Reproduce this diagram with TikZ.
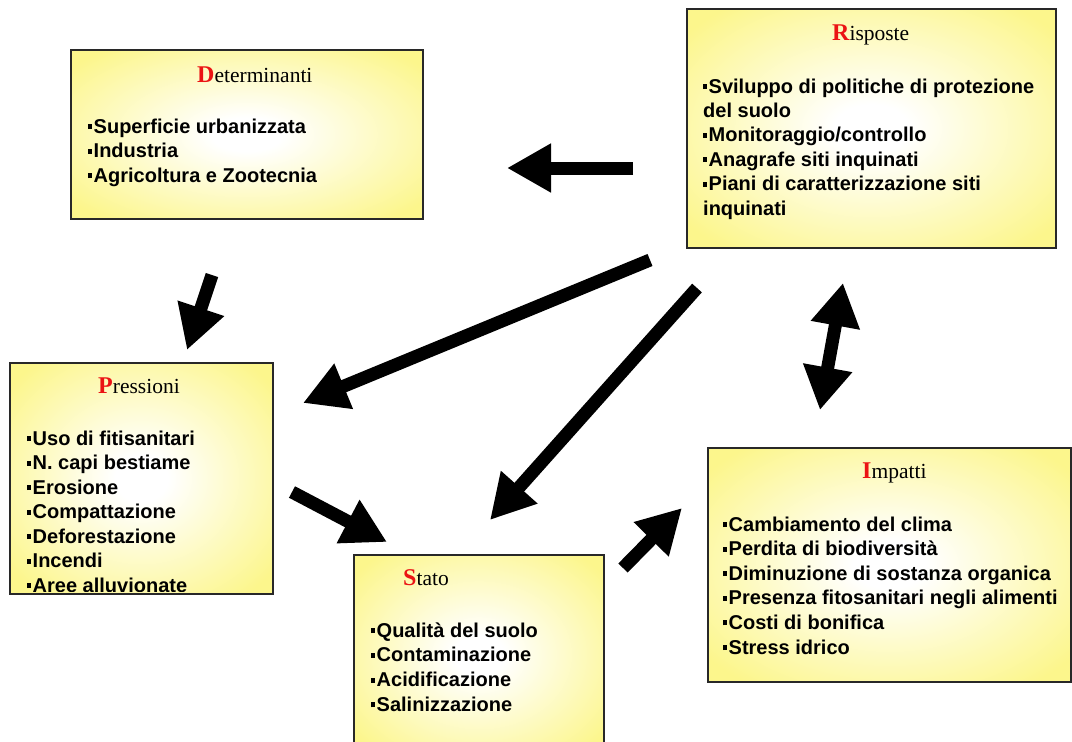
\documentclass[tikz,border=0pt]{standalone}
\usepackage{fontspec}
\setmainfont{Liberation Serif}
\setsansfont{Liberation Sans}
\usetikzlibrary{arrows.meta}

\definecolor{boxyel}{RGB}{252,246,140}
\definecolor{boxedge}{RGB}{40,40,40}
\definecolor{initred}{RGB}{235,20,20}

% soft white glow in the middle of each panel, fading to yellow
\pgfdeclareradialshading{glow}{\pgfpoint{0bp}{0bp}}{color(0bp)=(white); color(5bp)=(white); color(32bp)=(boxyel); color(50bp)=(boxyel)}

% panel heading: red bold initial, then the rest in roman
\newcommand\hd[2]{{\fontsize{24}{24}\selectfont\bfseries\color{initred}#1}{\fontsize{21.5}{22}\selectfont #2}}
% small square bullet
\newcommand\sq{\rule[4pt]{4pt}{5pt}\hspace{1.5pt}}

\begin{document}
\begin{tikzpicture}[x=1pt,y=-1pt,
  panel/.style={draw=boxedge, line width=1.8pt, shade, shading=glow,
    anchor=north west, inner sep=0pt},
  title/.style={anchor=base west, inner sep=0pt, font=\rmfamily},
  item/.style={anchor=base west, inner sep=0pt,
    font=\sffamily\bfseries\fontsize{20}{24}\selectfont},
  bigarrow/.style={line width=13pt, line cap=butt,
    -{Triangle[length=44pt,width=46pt]}},
  twoway/.style={line width=13pt, line cap=butt,
    {Triangle[length=43pt,width=47pt]}-{Triangle[length=43pt,width=47pt]}},
]
\useasboundingbox (0,0) rectangle (1072,742);
\clip (0,0) rectangle (1072,742);
\fill[white] (0,0) rectangle (1072,742);

% ---- panels ----
\node[panel, minimum width=352pt, minimum height=169pt] (det) at (70,49) {};
\node[panel, minimum width=369pt, minimum height=239pt] (risp) at (686,8) {};
\node[panel, minimum width=263pt, minimum height=231pt] (press) at (9,362) {};
\node[panel, minimum width=250pt, minimum height=200pt] (stato) at (353,554) {};
\node[panel, minimum width=363pt, minimum height=234pt] (imp) at (707,447) {};

% ---- headings ----
\node[title] (det-t) at (197,82) {\hd{D}{eterminanti}};
\node[title] (risp-t) at (832,40) {\hd{R}{isposte}};
\node[title] (press-t) at (98,393) {\hd{P}{ressioni}};
\node[title] (stato-t) at (403,585) {\hd{S}{tato}};
\node[title] (imp-t) at (862,478) {\hd{I}{mpatti}};

% ---- lists ----
\foreach \txt [count=\k] in {\sq Superficie urbanizzata, \sq Industria, \sq Agricoltura e Zootecnia}
  \node[item] (det-\k) at (88,133+24.5*\k-24.5) {\txt};

\foreach \txt [count=\k] in {\sq Sviluppo di politiche di protezione, del suolo,
    \sq Monitoraggio/controllo, \sq Anagrafe siti inquinati,
    \sq Piani di caratterizzazione siti, inquinati}
  \node[item] (risp-\k) at (703,93+24.4*\k-24.4) {\txt};

\begin{scope}
  \clip (9,362) rectangle (272,591.5);
  \foreach \txt [count=\k] in {\sq Uso di fitisanitari, \sq N. capi bestiame, \sq Erosione,
      \sq Compattazione, \sq Deforestazione, \sq Incendi, \sq Aree alluvionate}
    \node[item] (press-\k) at (27,445+24.5*\k-24.5) {\txt};
\end{scope}

\foreach \txt [count=\k] in {\sq Qualità del suolo, \sq Contaminazione, \sq Acidificazione, \sq Salinizzazione}
  \node[item] (stato-\k) at (371,637+24.8*\k-24.8) {\txt};

\foreach \txt [count=\k] in {\sq Cambiamento del clima, \sq Perdita di biodiversità,
    \sq Diminuzione di sostanza organica, \sq Presenza fitosanitari negli alimenti,
    \sq Costi di bonifica, \sq Stress idrico}
  \node[item] (imp-\k) at (723,531+24.6*\k-24.6) {\txt};

% ---- arrow ends ----
\coordinate (rd-a) at (633,168);  \coordinate (rd-b) at (507,168);
\coordinate (dp-a) at (212,275);  \coordinate (dp-b) at (187,350);
\coordinate (rp-a) at (650,260);  \coordinate (rp-b) at (303,403);
\coordinate (rs-a) at (697,288);  \coordinate (rs-b) at (490,520);
\coordinate (ir-a) at (820,410);  \coordinate (ir-b) at (843,283);
\coordinate (ps-a) at (292,492);  \coordinate (ps-b) at (387,542);
\coordinate (si-a) at (623,568);  \coordinate (si-b) at (682,508);

% ---- arrows ----
\draw[bigarrow] (rd-a) -- (rd-b);
\draw[bigarrow] (dp-a) -- (dp-b);
\draw[bigarrow] (rp-a) -- (rp-b);
\draw[bigarrow] (rs-a) -- (rs-b);
\draw[twoway] (ir-a) -- (ir-b);
\draw[bigarrow] (ps-a) -- (ps-b);
\draw[bigarrow] (si-a) -- (si-b);
\end{tikzpicture}
\end{document}
